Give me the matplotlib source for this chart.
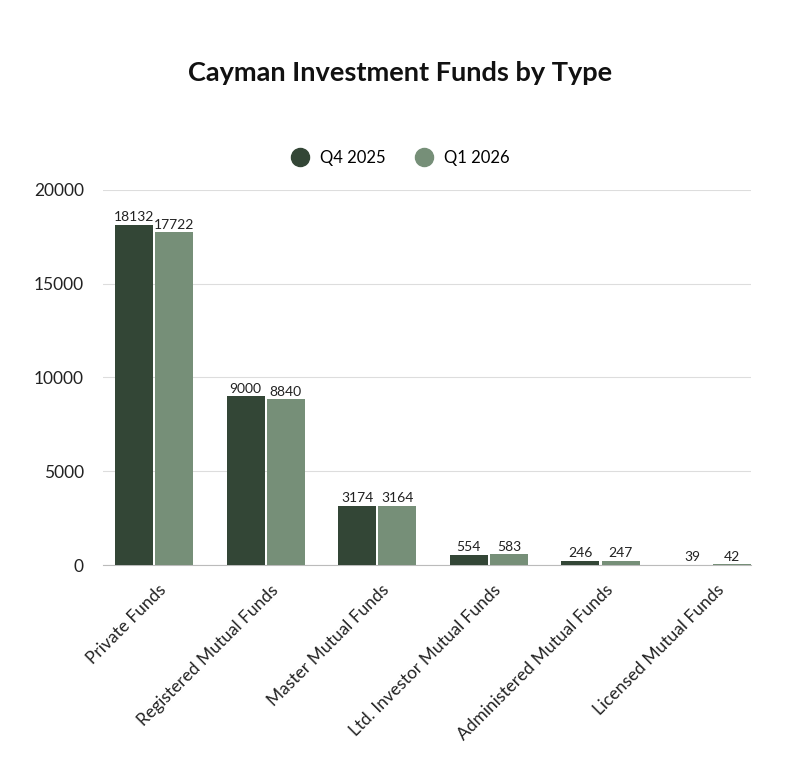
import matplotlib.pyplot as plt
import matplotlib.transforms as mtransforms
from matplotlib.lines import Line2D
import numpy as np

categories = ["Private Funds", "Registered Mutual Funds", "Master Mutual Funds",
              "Ltd. Investor Mutual Funds", "Administered Mutual Funds",
              "Licensed Mutual Funds"]
q4_2025 = [18132, 9000, 3174, 554, 246, 39]
q1_2026 = [17722, 8840, 3164, 583, 247, 42]

dark = "#334636"
light = "#768f78"

plt.rcParams['font.family'] = ['Lato', 'DejaVu Sans']

fig = plt.figure(figsize=(8, 7.68), dpi=100)
ax = fig.add_axes([0.129, 0.264, 0.81, 0.489])

x = np.arange(len(categories))
w = 0.34
b1 = ax.bar(x - 0.01 - w / 2, q4_2025, w, color=dark, label="Q4 2025", zorder=3)
b2 = ax.bar(x + 0.01 + w / 2, q1_2026, w, color=light, label="Q1 2026", zorder=3)
ax.bar_label(b1, padding=1, fontsize=10, color="#222222")
ax.bar_label(b2, padding=1, fontsize=10, color="#222222")

ax.set_ylim(0, 20000)
ax.set_xlim(-0.457, 5.35)
ax.set_yticks([0, 5000, 10000, 15000, 20000])
ax.yaxis.grid(True, color="#dddddd", linewidth=0.8, zorder=0)
for s in ["top", "right", "left"]:
    ax.spines[s].set_visible(False)
ax.spines["bottom"].set_color("#bbbbbb")
ax.tick_params(axis="y", length=0, labelsize=12.5, pad=14, colors="#222222")
ax.tick_params(axis="x", length=0, labelsize=12.5, pad=12, colors="#222222")
ax.set_xticks(x)
ax.set_xticklabels(categories, rotation=45, ha="right", rotation_mode="anchor")
shift = mtransforms.ScaledTranslation(4 / 100, 0, fig.dpi_scale_trans)
for lbl in ax.get_xticklabels():
    lbl.set_transform(lbl.get_transform() + shift)

fig.text(0.5, 0.905, "Cayman Investment Funds by Type", ha="center", va="center",
         fontsize=19.5, fontweight="bold", color="#111111")

handles = [Line2D([], [], marker="o", linestyle="", markersize=13, color=dark),
           Line2D([], [], marker="o", linestyle="", markersize=13, color=light)]
fig.legend(handles, ["Q4 2025", "Q1 2026"], loc="center", bbox_to_anchor=(0.496, 0.794),
           ncol=2, frameon=False, fontsize=12, handletextpad=0.2, columnspacing=1.3)

fig.savefig("out.png", dpi=100)
